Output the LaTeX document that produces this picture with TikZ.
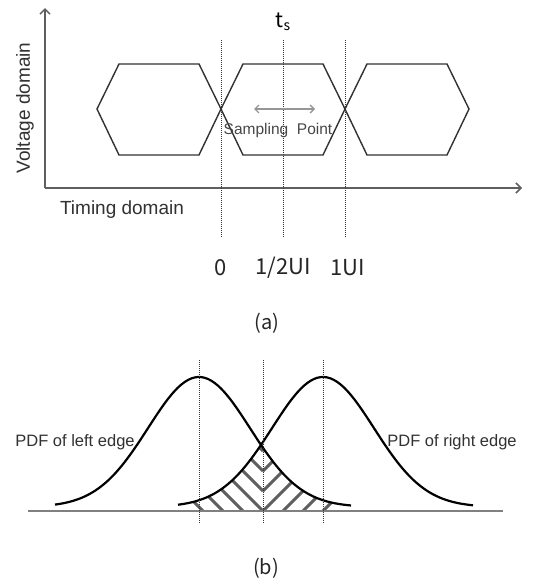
\documentclass[tikz,border=0pt]{standalone}
\usepackage{fontspec}
\setmainfont{Liberation Sans}
\newfontfamily\krfont{Noto Sans CJK KR}
\usetikzlibrary{arrows.meta}
\definecolor{inkgray}{RGB}{50, 50, 50}
\definecolor{axisgray}{RGB}{95, 95, 95}
\definecolor{hatchgray}{RGB}{95, 95, 95}
\definecolor{softgray}{RGB}{150, 150, 150}

\begin{document}
\begin{tikzpicture}[
    x=1pt, y=-1pt,
    axis/.style={draw=axisgray, line width=1.5pt, -{Straight Barb[length=5pt,width=10pt]}},
    eye/.style={draw=inkgray, line width=1.4pt, line join=miter},
    guide/.style={draw=inkgray, densely dotted, line width=1pt},
    curve/.style={draw=black, line width=2.2pt},
    hatch/.style={draw=hatchgray, line width=3pt},
    axistext/.style={inner sep=0pt, text=inkgray, font=\fontsize{19}{22}\selectfont},
    ticktext/.style={inner sep=0pt, text=black!85, font=\krfont\fontsize{22}{24}\selectfont},
    pdftext/.style={inner sep=0pt, text=inkgray, font=\fontsize{16.5}{19}\selectfont},
    arrow/.style={<->, >={Straight Barb[length=4pt,width=8pt]}, softgray, line width=1.3pt}
]
    \fill[white] (0,0) rectangle (544,581);
    \useasboundingbox (0,0) rectangle (544,581);

    % (a) eye diagram
    \coordinate (origin) at (45,188);
    \coordinate (ytip) at (45,8);
    \coordinate (xtip) at (522,188);
    \draw [axis] (origin) -- (ytip);
    \draw [axis] (origin) -- (xtip);

    \foreach \c in {159,283,407}
        \draw [eye] ({\c-62},109) -- ({\c-40},64) -- ({\c+40},64) -- ({\c+62},109)
            -- ({\c+40},155) -- ({\c-40},155) -- cycle;

    \foreach \x/\n in {221/zero, 283/half, 345/one} {
        \coordinate (\n-top) at (\x,40);
        \coordinate (\n-bot) at (\x,237);
        \draw [guide] (\n-top) -- (\n-bot);
    }

    \node [inner sep=0pt, font=\krfont\fontsize{21}{22}\selectfont] (ts) at (283,22) {t\raisebox{-3pt}{\fontsize{14}{14}\selectfont s}};
    \coordinate (samp-l) at (254,109);
    \coordinate (samp-r) at (315,109);
    \draw [arrow] (samp-l) -- (samp-r);
    \node [inner sep=0pt, text=black!72, font=\fontsize{15.5}{18}\selectfont] (samp) at (278,130) {Sampling\ \ Point};

    \node [axistext, rotate=90] (volt) at (25,108) {Voltage domain};
    \node [axistext] (timing) at (122,210) {Timing domain};

    \node [ticktext] (t0) at (221,268) {0};
    \node [ticktext] (thalf) at (283,268) {1/2UI};
    \node [ticktext] (tone) at (348,268) {1UI};
    \node [ticktext, font=\krfont\fontsize{20}{22}\selectfont] (cap-a) at (267,323) {(a)};

    % (b) edge distributions
    \begin{scope}
        \clip plot[domain=178:263, samples=40] (\x, {507-130*exp(-0.5*((\x-323)/51)*((\x-323)/51))})
            -- plot[domain=263:351, samples=40] (\x, {507-130*exp(-0.5*((\x-199)/51)*((\x-199)/51))})
            -- (351,511) -- (178,511) -- cycle;
        \foreach \v in {451,471,...,571} {
            \draw [hatch] (263,\v) -- ++(-130,-130);
            \draw [hatch] (263,\v) -- ++(130,-130);
        }
    \end{scope}

    \draw [curve] plot[domain=55:351, samples=90, smooth] (\x, {507-130*exp(-0.5*((\x-199)/51)*((\x-199)/51))});
    \draw [curve] plot[domain=178:473, samples=90, smooth] (\x, {507-130*exp(-0.5*((\x-323)/51)*((\x-323)/51))});

    \coordinate (base-l) at (28,511);
    \coordinate (base-r) at (503,511);
    \draw [draw=softgray!85!black, line width=1.8pt] (base-l) -- (base-r);

    \foreach \x/\n in {199/left, 263/mid, 323/right} {
        \coordinate (\n-top) at (\x,360);
        \coordinate (\n-bot) at (\x,523);
        \draw [guide] (\n-top) -- (\n-bot);
    }

    \node [pdftext] (pdf-l) at (75,442) {PDF of left edge};
    \node [pdftext] (pdf-r) at (452,442) {PDF of right edge};
    \node [ticktext, font=\krfont\fontsize{20}{22}\selectfont] (cap-b) at (266,568) {(b)};
\end{tikzpicture}
\end{document}
